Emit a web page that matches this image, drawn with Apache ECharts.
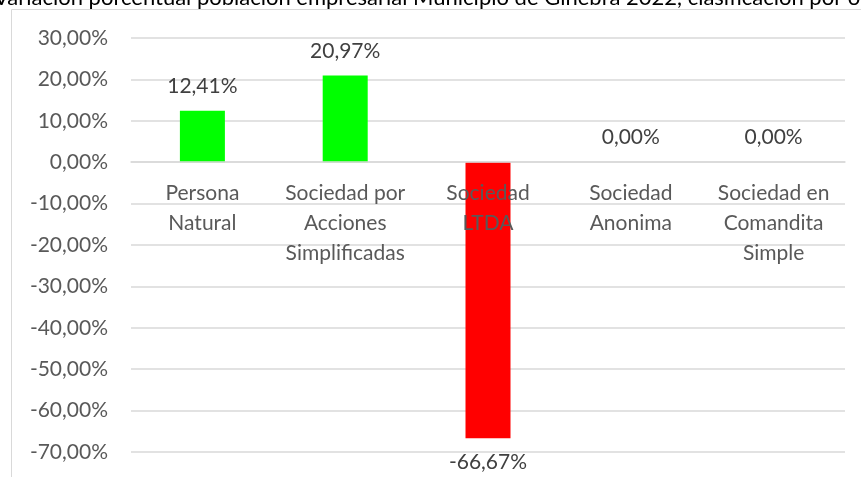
<!DOCTYPE html>
<html>
<head>
<meta charset="utf-8">
<script src="https://cdn.jsdelivr.net/npm/echarts@6/dist/echarts.min.js"></script>
<style>
  html, body { margin: 0; padding: 0; background: #fff; }
  #chart { width: 861px; height: 477px; }
</style>
</head>
<body>
<div id="chart"></div>
<script>
const titulo = 'Variación porcentual población empresarial Municipio de Ginebra 2022, clasificación por organización jurídica';
const categorias = ['Persona\nNatural', 'Sociedad por\nAcciones\nSimplificadas', 'Sociedad\nLTDA', 'Sociedad\nAnonima', 'Sociedad en\nComandita\nSimple'];
const variacion = [12.41, 20.97, -66.67, 0, 0];
const yMin = -70, yMax = 30;

const fmt = v => v.toFixed(2).replace('.', ',') + '%';
const fuente = 'Lato';

// negativos: etiqueta debajo de la barra
const datos = variacion.map(v => ({
    value: v,
    itemStyle: { color: v < 0 ? '#ff0000' : '#00ff00' },
    label: { position: v < 0 ? 'bottom' : 'top' }
}));

const H = 477, gTop = 38, gBottom = 25;
// subir el eje de categorías hasta la línea del 0
const alto = H - gTop - gBottom;
const subir = alto * (0 - yMin) / (yMax - yMin);

const chart = echarts.init(document.getElementById('chart'));
chart.setOption({
    animation: false,
    textStyle: { fontFamily: fuente },
    title: {
        text: titulo,
        left: -6,
        top: -13,
        padding: 0,
        textStyle: { fontFamily: fuente, fontSize: 22, fontWeight: 'normal', color: '#000' }
    },
    graphic: [{
        type: 'rect',
        shape: { x: 11.5, y: 9.5, width: 900, height: 520 },
        style: { fill: 'none', stroke: '#d9d9d9', lineWidth: 1 },
        silent: true
    }],
    grid: { left: 131, right: 16, top: gTop, bottom: gBottom, containLabel: false, outerBoundsMode: 'none' },
    xAxis: {
        type: 'category',
        data: categorias,
        position: 'bottom',
        offset: -subir,
        z: 3,
        axisLine: { onZero: false, lineStyle: { color: '#d9d9d9', width: 1.5 } },
        axisTick: { show: false },
        axisLabel: {
            interval: 0,
            margin: 16,
            color: '#595959',
            fontSize: 21,
            lineHeight: 30,
            fontFamily: fuente
        }
    },
    yAxis: {
        type: 'value',
        min: yMin,
        max: yMax,
        interval: 10,
        axisLine: { show: false },
        axisTick: { show: false },
        splitLine: { lineStyle: { color: '#d9d9d9', width: 1.5 } },
        axisLabel: {
            margin: 23,
            color: '#595959',
            fontSize: 21,
            fontFamily: fuente,
            formatter: fmt
        }
    },
    series: [{
        type: 'bar',
        data: datos,
        barWidth: 45,
        label: {
            show: true,
            distance: 14,
            color: '#404040',
            fontSize: 21,
            fontFamily: fuente,
            formatter: p => fmt(p.value)
        }
    }]
});
</script>
</body>
</html>
